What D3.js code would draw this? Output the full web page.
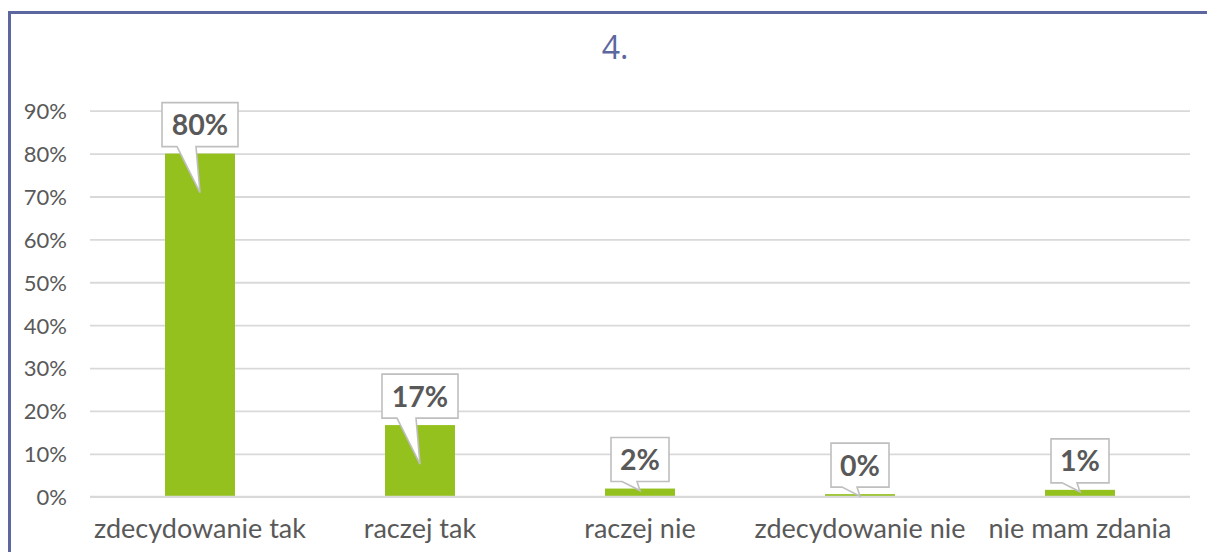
<!DOCTYPE html>
<html>
<head>
<meta charset="utf-8">
<script src="https://cdn.jsdelivr.net/npm/d3@7"></script>
<style>
html,body{margin:0;padding:0;background:#fff;}
svg{display:block;}
</style>
</head>
<body>
<svg id="chart" width="1207" height="552"></svg>
<script>
const title = "4.";
const categories = ["zdecydowanie tak", "raczej tak", "raczej nie", "zdecydowanie nie", "nie mam zdania"];
const values = [80, 16.7, 1.9, 0.6, 1.6];
const valueLabels = ["80%", "17%", "2%", "0%", "1%"];
const yTicks = [0, 10, 20, 30, 40, 50, 60, 70, 80, 90];

(function () {
const svg = d3.select("#chart");
const W = 1207, H = 552;
const pLeft = 90, pRight = 1190, pTop = 110.7, pBottom = 496.7;

// frame
svg.append("rect")
  .attr("x", 9.5).attr("y", 12.5)
  .attr("width", W + 20).attr("height", H + 20)
  .attr("fill", "#fff").attr("stroke", "#5D679F").attr("stroke-width", 3);

// title
svg.append("text")
  .attr("x", 615).attr("y", 59)
  .attr("text-anchor", "middle")
  .attr("font-family", "'Open Sans', 'Noto Sans', sans-serif")
  .attr("font-size", 32)
  .attr("fill", "#5D679F")
  .text(title);

const x = d3.scaleBand().domain(categories).range([pLeft, pRight])
  .paddingInner(0.682).paddingOuter(0.341);
const y = d3.scaleLinear().domain([0, 90]).range([pBottom, pTop]);

// grid
const grid = svg.append("g")
  .attr("transform", `translate(${pLeft},0)`)
  .call(d3.axisLeft(y).tickValues(yTicks).tickSize(-(pRight - pLeft)).tickFormat(d => d + "%"));
grid.select(".domain").remove();
grid.selectAll(".tick line").attr("stroke", "#D9D9D9").attr("stroke-width", 1.8);
grid.selectAll(".tick text")
  .attr("x", -23)
  .attr("dy", "0.36em")
  .attr("font-family", "Lato, 'Noto Sans', sans-serif")
  .attr("font-size", 22)
  .attr("fill", "#595959");

// bars
svg.append("g").selectAll("rect").data(values).join("rect")
  .attr("x", (d, i) => x(categories[i]))
  .attr("width", x.bandwidth())
  .attr("y", d => y(d))
  .attr("height", d => y(0) - y(d))
  .attr("fill", "#95C11F");

// baseline over bars
svg.append("line")
  .attr("x1", pLeft).attr("x2", pRight)
  .attr("y1", y(0)).attr("y2", y(0))
  .attr("stroke", "#D9D9D9").attr("stroke-width", 1.8);

// x labels
const xa = svg.append("g")
  .attr("transform", `translate(0,${pBottom})`)
  .call(d3.axisBottom(x).tickSize(0).tickPadding(22));
xa.select(".domain").remove();
xa.selectAll(".tick text")
  .attr("font-family", "Lato, 'Noto Sans', sans-serif")
  .attr("font-size", 27)
  .attr("fill", "#595959");

// callouts
const cg = svg.append("g");
values.forEach((v, i) => {
  const cx = x(categories[i]) + x.bandwidth() / 2;
  const barTop = y(v);
  const barH = y(0) - barTop;
  const label = valueLabels[i];
  const bw = label.length > 2 ? 76 : 58;
  const bh = 44;
  const by = barTop - 7 - bh;
  const bx = cx - bw / 2;
  const tipY = barH > 50 ? barTop + 39 : barTop + 2;
  const b1 = barH > 50 ? cx - 23 : cx - 18;
  const b2 = barH > 50 ? cx - 4 : cx - 3;
  const path = `M${bx},${by} H${bx + bw} V${by + bh} H${b2} L${cx},${tipY} L${b1},${by + bh} H${bx} Z`;
  cg.append("path").attr("d", path)
    .attr("fill", "#fff").attr("stroke", "#BFBFBF").attr("stroke-width", 1.6)
    .attr("stroke-linejoin", "miter");
  cg.append("text")
    .attr("x", cx).attr("y", by + bh / 2 + 10.5)
    .attr("text-anchor", "middle")
    .attr("font-family", "Lato, 'Noto Sans', sans-serif")
    .attr("font-weight", "bold")
    .attr("font-size", 28.5)
    .attr("fill", "#595959")
    .text(label);
});
})();
</script>
</body>
</html>
